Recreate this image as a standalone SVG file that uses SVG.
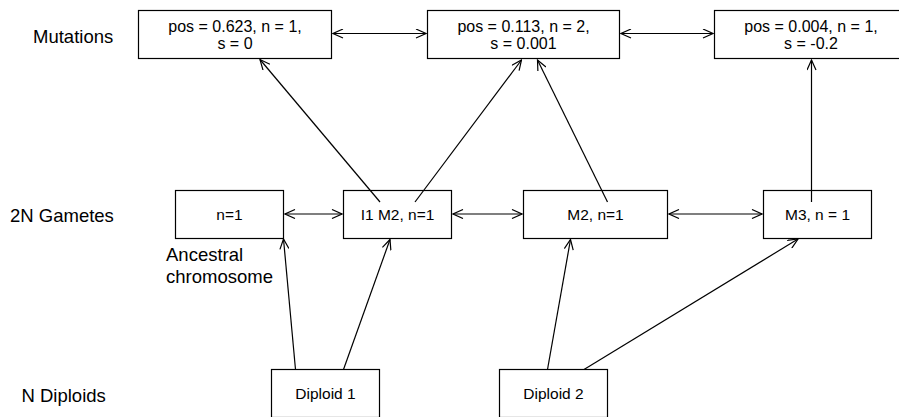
<svg xmlns="http://www.w3.org/2000/svg" width="899" height="417" viewBox="0 0 899 417">
<defs>
<style>
.box{fill:#fff;stroke:#000;stroke-width:1.2}
.t{font-family:"Liberation Sans",Arial,sans-serif;font-size:16px;fill:#000;text-anchor:middle}
.s{font-size:15.5px}
.lbl{font-family:"Liberation Sans",Arial,sans-serif;font-size:18.5px;fill:#000}
.c{fill:none;stroke:#000;stroke-width:1.2;marker-end:url(#ah)}
.cb{fill:none;stroke:#000;stroke-width:1.2;marker-end:url(#ah);marker-start:url(#ahs)}
</style>
<marker id="ah" viewBox="0 0 12 10" refX="11" refY="5" markerWidth="12" markerHeight="10" markerUnits="userSpaceOnUse" orient="auto">
<path d="M1,0.5 L11,5 L1,9.5" fill="none" stroke="#000" stroke-width="1.2"/>
</marker>
<marker id="ahs" viewBox="0 0 12 10" refX="1" refY="5" markerWidth="12" markerHeight="10" markerUnits="userSpaceOnUse" orient="auto">
<path d="M11,0.5 L1,5 L11,9.5" fill="none" stroke="#000" stroke-width="1.2"/>
</marker>
</defs>
<rect width="899" height="417" fill="#fff"/>
<g id="labels">
<text class="lbl" x="33" y="42.5">Mutations</text>
<text class="lbl" x="10" y="221.5">2N Gametes</text>
<text class="lbl" x="21.5" y="402">N Diploids</text>
<text class="lbl" x="166" y="260.5">Ancestral</text>
<text class="lbl" x="166" y="283">chromosome</text>
</g>
<g id="mut1"><rect class="box" x="138.5" y="10.5" width="193" height="48"/>
<text class="t" x="235" y="31.5">pos = 0.623, n = 1,</text><text class="t" x="235" y="48.5">s = 0</text></g>
<g id="mut2"><rect class="box" x="427.5" y="10.5" width="192" height="48"/>
<text class="t" x="523.5" y="31.5">pos = 0.113, n = 2,</text><text class="t" x="523.5" y="48.5">s = 0.001</text></g>
<g id="mut3"><rect class="box" x="714.5" y="10.5" width="193" height="48"/>
<text class="t" x="811" y="31.5">pos = 0.004, n = 1,</text><text class="t" x="811" y="48.5">s = -0.2</text></g>
<g id="gam1"><rect class="box" x="175.5" y="190.5" width="108" height="48"/>
<text class="t s" x="229.5" y="219.5">n=1</text></g>
<g id="gam2"><rect class="box" x="343.5" y="190.5" width="108" height="48"/>
<text class="t s" x="397.5" y="219.5">I1 M2, n=1</text></g>
<g id="gam3"><rect class="box" x="523.5" y="190.5" width="144" height="48"/>
<text class="t s" x="595.5" y="219.5">M2, n=1</text></g>
<g id="gam4"><rect class="box" x="763.5" y="190.5" width="108" height="48"/>
<text class="t s" x="817.5" y="219.5">M3, n = 1</text></g>
<g id="dip1"><rect class="box" x="271.5" y="369.5" width="108" height="48"/>
<text class="t s" x="325.5" y="398.5">Diploid 1</text></g>
<g id="dip2"><rect class="box" x="499.5" y="369.5" width="108" height="48"/>
<text class="t s" x="553.5" y="398.5">Diploid 2</text></g>
<g id="connectors">
<line class="cb" x1="333" y1="33.5" x2="426" y2="33.5"/>
<line class="cb" x1="621" y1="33.5" x2="713" y2="33.5"/>
<line class="cb" x1="285" y1="214" x2="342" y2="214"/>
<line class="cb" x1="453" y1="214" x2="522" y2="214"/>
<line class="cb" x1="669" y1="214" x2="762" y2="214"/>
<line class="c" x1="380" y1="202" x2="260" y2="59.5"/>
<line class="c" x1="415" y1="202" x2="521.5" y2="60"/>
<line class="c" x1="607.5" y1="202" x2="537.5" y2="60"/>
<line class="c" x1="811.5" y1="202" x2="811.5" y2="60"/>
<line class="c" x1="295.5" y1="369.5" x2="283.5" y2="239"/>
<line class="c" x1="343.5" y1="369.5" x2="390" y2="239.5"/>
<line class="c" x1="547.5" y1="369.5" x2="570.5" y2="239.5"/>
<line class="c" x1="584" y1="369.5" x2="798" y2="239"/>
</g>
</svg>
